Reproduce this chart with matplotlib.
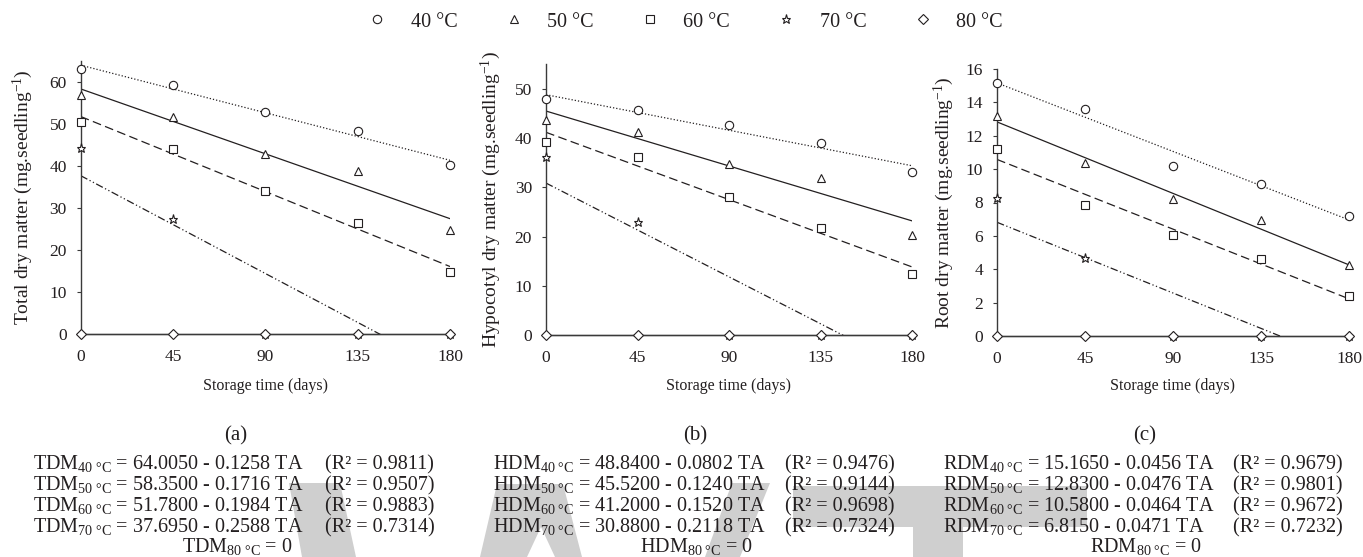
import numpy as np
import matplotlib
matplotlib.use("Agg")
import matplotlib.pyplot as plt
from matplotlib.patches import Polygon

plt.rcParams['font.family'] = ['Liberation Serif', 'DejaVu Serif']
plt.rcParams['mathtext.fontset'] = 'custom'
plt.rcParams['mathtext.rm'] = 'Liberation Serif'
plt.rcParams['mathtext.it'] = 'Liberation Serif:italic'
plt.rcParams['mathtext.bf'] = 'Liberation Serif:bold'

# ---------------------------------------------------------------- data
days = [0, 45, 90, 135, 180]
temps = ['40 °C', '50 °C', '60 °C', '70 °C', '80 °C']

# Total dry matter (mg.seedling-1)
tdm_40 = [63.0, 59.2, 52.8, 48.3, 40.2]
tdm_50 = [57.0, 51.6, 42.9, 38.9, 24.8]
tdm_60 = [50.5, 44.0, 34.0, 26.4, 14.7]
tdm_70 = [44.4, 27.5, 0.0, 0.0, 0.0]
tdm_80 = [0.0, 0.0, 0.0, 0.0, 0.0]

# Hypocotyl dry matter (mg.seedling-1)
hdm_40 = [47.9, 45.7, 42.6, 39.1, 33.1]
hdm_50 = [43.8, 41.3, 34.7, 32.0, 20.4]
hdm_60 = [39.3, 36.2, 28.0, 21.8, 12.3]
hdm_70 = [36.2, 23.0, 0.0, 0.0, 0.0]
hdm_80 = [0.0, 0.0, 0.0, 0.0, 0.0]

# Root dry matter (mg.seedling-1)
rdm_40 = [15.19, 13.59, 10.20, 9.12, 7.19]
rdm_50 = [13.20, 10.34, 8.19, 6.95, 4.25]
rdm_60 = [11.20, 7.84, 6.03, 4.63, 2.38]
rdm_70 = [8.24, 4.65, 0.0, 0.0, 0.0]
rdm_80 = [0.0, 0.0, 0.0, 0.0, 0.0]

# Linear regressions: value = intercept - slope * TA
tdm_intercepts = [64.0050, 58.3500, 51.7800, 37.6950, 0.0]
tdm_slopes = [0.1258, 0.1716, 0.1984, 0.2588, 0.0]
tdm_r2 = [0.9811, 0.9507, 0.9883, 0.7314]

hdm_intercepts = [48.8400, 45.5200, 41.2000, 30.8800, 0.0]
hdm_slopes = [0.0802, 0.1240, 0.1520, 0.2118, 0.0]
hdm_r2 = [0.9476, 0.9144, 0.9698, 0.7324]

rdm_intercepts = [15.1650, 12.8300, 10.5800, 6.8150, 0.0]
rdm_slopes = [0.0456, 0.0476, 0.0464, 0.0471, 0.0]
rdm_r2 = [0.9679, 0.9801, 0.9672, 0.7232]

# ---------------------------------------------------------------- styles
W, H = 1363, 557
INK = '#231f20'
AXC = '#3a3a3a'
markers = ['o', '^', 's', '*', 'D']
msizes = [6, 6, 5.5, 6.5, 5]
linestyles = [(0, (1, 1.6)), '-', (0, (7, 3.5)), (0, (6, 2, 1, 2, 1, 2)), '-']

fig = plt.figure(figsize=(W / 100, H / 100), dpi=100)


def fx(px):
    return px / W


def fy(py):
    return 1 - py / H


# light grey watermark shapes behind the equations
wm_color = '#cfcfcf'
wm_shapes = [
    [(289, 483), (340, 483), (356, 557), (302, 557)],
    [(480, 557), (497, 484), (563, 484), (582, 557), (555, 557),
     (541, 527), (527, 557)],
    [(732, 483), (770, 483), (740, 557), (705, 557)],
    [(793, 486), (1087, 486), (1087, 527), (963, 527), (963, 557),
     (913, 557), (913, 527), (793, 527)],
]
for shp in wm_shapes:
    fig.add_artist(Polygon([(fx(x), fy(y)) for x, y in shp], closed=True,
                           facecolor=wm_color, edgecolor='none',
                           transform=fig.transFigure, zorder=0))

panels = [
    dict(box=(80.7, 450, 61, 334), ylim=65, yticks=range(0, 61, 10),
         series=[tdm_40, tdm_50, tdm_60, tdm_70, tdm_80],
         icpt=tdm_intercepts, slope=tdm_slopes, r2=tdm_r2, name='TDM',
         ylabel='Total dry matter (mg.seedling$^{-1}$)', ylab_x=23,
         tag='(a)', tag_x=236, eq_x=33, r2_x=325, last_x=237),
    dict(box=(546, 912, 64.4, 335), ylim=55, yticks=range(0, 51, 10),
         series=[hdm_40, hdm_50, hdm_60, hdm_70, hdm_80],
         icpt=hdm_intercepts, slope=hdm_slopes, r2=hdm_r2, name='HDM',
         ylabel='Hypocotyl dry matter (mg.seedling$^{-1}$)', ylab_x=491,
         tag='(b)', tag_x=695, eq_x=493, r2_x=785, last_x=696),
    dict(box=(997, 1349, 69, 336), ylim=16, yticks=range(0, 17, 2),
         series=[rdm_40, rdm_50, rdm_60, rdm_70, rdm_80],
         icpt=rdm_intercepts, slope=rdm_slopes, r2=rdm_r2, name='RDM',
         ylabel='Root dry matter (mg.seedling$^{-1}$)', ylab_x=944,
         tag='(c)', tag_x=1145, eq_x=943, r2_x=1233, last_x=1146),
]

eq_fs = 14.5
row_y = [469, 490, 511, 532]
last_y = 552

legend_handles = []
for k, p in enumerate(panels):
    x0, x1, ytop, ybot = p['box']
    ax = fig.add_axes([fx(x0), fy(ybot), (x1 - x0) / W, (ybot - ytop) / H])
    ax.set_xlim(0, 180)
    ax.set_ylim(0, p['ylim'])
    ax.set_xticks(days)
    ax.set_yticks(list(p['yticks']))
    for s in ('top', 'right'):
        ax.spines[s].set_visible(False)
    for s in ('left', 'bottom'):
        ax.spines[s].set_color(AXC)
        ax.spines[s].set_linewidth(1.0)
    ax.tick_params(axis='y', direction='out', length=3, width=0.8,
                   color=AXC, pad=7, labelsize=12.5, labelcolor=INK)
    ax.tick_params(axis='x', length=0, pad=11, labelsize=12.5,
                   labelcolor=INK)
    ax.patch.set_alpha(0)

    tx = np.array([0.0, 180.0])
    for i in range(5):
        yfit = p['icpt'][i] - p['slope'][i] * tx
        ax.plot(tx, yfit, color=INK, lw=0.9, ls=linestyles[i],
                zorder=2, clip_on=(i != 4))
    for i in range(5):
        h, = ax.plot(days, p['series'][i], ls='none', marker=markers[i],
                     ms=msizes[i], mfc='white', mec=INK, mew=0.8,
                     zorder=3 + i, clip_on=False)
        if k == 0:
            legend_handles.append(h)

    ax.set_ylabel(p['ylabel'], fontsize=14, color=INK, va='center')
    ax.yaxis.set_label_coords((p['ylab_x'] - x0) / (x1 - x0), 0.5)
    ax.set_xlabel('Storage time (days)', fontsize=11.5, color=INK,
                  va='center')
    ax.xaxis.set_label_coords(0.5, -(386 - ybot) / (ybot - ytop))

    # panel tag and regression equations
    fig.text(fx(p['tag_x']), fy(436), p['tag'], fontsize=eq_fs + 0.5,
             color=INK, ha='center', va='center')
    for i in range(4):
        sub = temps[i].replace(' ', r'\ ')
        lhs = (p['name'] + r'$_{\mathregular{' + sub + r'}}$' +
               f" = {p['icpt'][i]:.4f} - {p['slope'][i]:.4f} TA")
        fig.text(fx(p['eq_x']), fy(row_y[i]), lhs, fontsize=eq_fs,
                 color=INK, ha='left', va='baseline')
        fig.text(fx(p['r2_x']), fy(row_y[i]), f"(R² = {p['r2'][i]:.4f})",
                 fontsize=eq_fs, color=INK, ha='left', va='baseline')
    sub = temps[4].replace(' ', r'\ ')
    fig.text(fx(p['last_x']), fy(last_y),
             p['name'] + r'$_{\mathregular{' + sub + r'}}$ = 0',
             fontsize=eq_fs, color=INK, ha='center', va='baseline')

fig.legend(legend_handles, temps, ncol=5, loc='center',
           bbox_to_anchor=(fx(685), fy(22)), frameon=False, fontsize=14.5,
           handlelength=1.0, handletextpad=1.15, columnspacing=2.3,
           borderpad=0, borderaxespad=0, labelcolor=INK)

fig.savefig('out.png', dpi=100)
